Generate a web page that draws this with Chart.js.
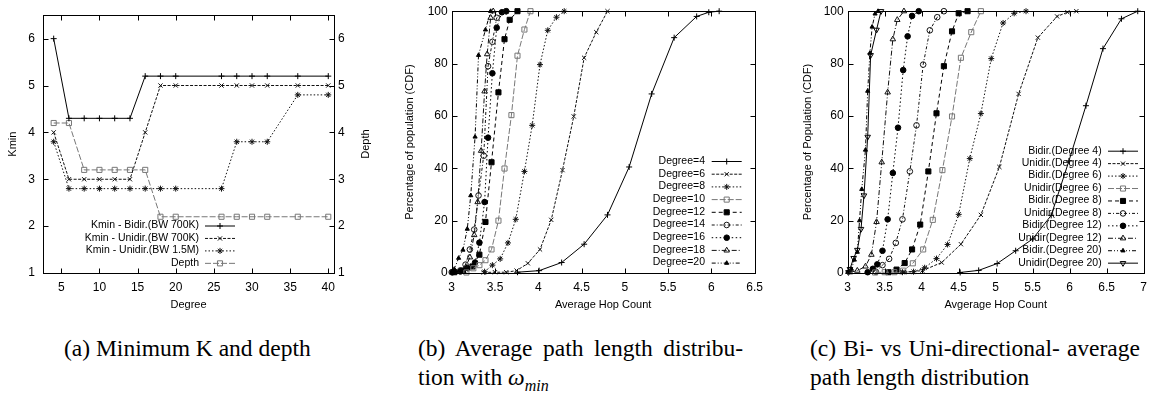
<!DOCTYPE html>
<html>
<head>
<meta charset="utf-8">
<script src="https://cdn.jsdelivr.net/npm/chart.js@4.4.1/dist/chart.umd.min.js"></script>
<style>
  body { margin: 0; background: #fff; width: 1154px; height: 394px; overflow: hidden; position: relative; }
  canvas { position: absolute; top: 0; }
  .cap { position: absolute; font-family: 'Liberation Serif', 'Times New Roman', serif; font-size: 23.5px; color: #000; white-space: nowrap; line-height: 29px; }
  .just { text-align: justify; text-align-last: justify; }
</style>
</head>
<body>
<canvas id="c1" width="385" height="315" style="left:0px"></canvas>
<canvas id="c2" width="378" height="315" style="left:392px"></canvas>
<canvas id="c3" width="369" height="315" style="left:785px"></canvas>

<div class="cap" style="left:64px;top:334px">(a) Minimum K and depth</div>
<div class="cap just" style="left:418px;top:334px;width:325px">(b) Average path length distribu-</div>
<div class="cap" style="left:418px;top:363px">tion with <i>ω</i><sub style="font-size:16px"><i>min</i></sub></div>
<div class="cap just" style="left:810px;top:334px;width:330px">(c) Bi- vs Uni-directional- average</div>
<div class="cap" style="left:810px;top:363px">path length distribution</div>

<script>
// (a) Kmin / depth against node degree
const DEGREES = [4, 6, 8, 10, 12, 14, 16, 18, 20, 26, 28, 30, 32, 36, 40];
const KMIN_BIDIR_700K  = [6, 4.3, 4.3, 4.3, 4.3, 4.3, 5.2, 5.2, 5.2, 5.2, 5.2, 5.2, 5.2, 5.2, 5.2];
const KMIN_UNIDIR_700K = [4, 3, 3, 3, 3, 3, 4, 5, 5, 5, 5, 5, 5, 5, 5];
const KMIN_UNIDIR_15M  = [3.8, 2.8, 2.8, 2.8, 2.8, 2.8, 2.8, 2.8, 2.8, 2.8, 3.8, 3.8, 3.8, 4.8, 4.8];
const DEPTH            = [4.2, 4.2, 3.2, 3.2, 3.2, 3.2, 3.2, 2.2, 2.2, 2.2, 2.2, 2.2, 2.2, 2.2, 2.2];
const DEG_TICKS = [5, 10, 15, 20, 25, 30, 35, 40];
const K_TICKS = [1, 2, 3, 4, 5, 6];

// (b) CDF of average hop count, [hop, percent] (unidirectional)
const HOP_DEG4  = [[3.76,0.3],[4.01,0.9],[4.27,4],[4.53,11],[4.80,22.2],[5.05,40.5],[5.31,68.4],[5.57,89.9],[5.83,98],[5.97,99.6],[6.09,100]];
const HOP_DEG6  = [[3.37,0.2],[3.50,0.3],[3.63,0.3],[3.75,0.9],[3.88,3.7],[4.02,9],[4.15,20.3],[4.28,39.3],[4.41,59.8],[4.53,82.2],[4.67,92],[4.80,100]];
const HOP_DEG8  = [[3.38,0.5],[3.47,3],[3.56,5.4],[3.65,11.5],[3.74,20.5],[3.84,38.8],[3.93,56.4],[4.02,79.6],[4.11,92.7],[4.21,97.7],[4.30,100]];
const HOP_DEG10 = [[3.17,0.2],[3.25,1.8],[3.32,3],[3.39,4.9],[3.46,9],[3.54,20],[3.61,39.9],[3.69,60.3],[3.76,83],[3.84,93],[3.91,100]];
const HOP_DEG12 = [[3.03,0.3],[3.13,0.9],[3.24,2.5],[3.32,7],[3.39,19.5],[3.46,42.3],[3.54,69],[3.61,89.3],[3.67,96.7],[3.76,100]];
const HOP_DEG14 = [[3.0,0.3],[3.10,1],[3.16,3.2],[3.21,9],[3.26,16.6],[3.31,29.6],[3.37,44.8],[3.42,79],[3.47,88.3],[3.52,97.5],[3.63,100]];
const HOP_DEG16 = [[3.01,0.3],[3.10,0.6],[3.18,1.9],[3.27,4],[3.32,11.6],[3.38,27.1],[3.42,51.7],[3.47,76.3],[3.52,93.7],[3.58,99.6],[3.63,100]];
const HOP_DEG18 = [[3.01,0.3],[3.09,0.6],[3.16,2.1],[3.21,6],[3.26,14.5],[3.30,27.1],[3.34,46.7],[3.38,69.4],[3.41,83.6],[3.45,97.5],[3.48,100]];
const HOP_DEG20 = [[3.01,0.3],[3.03,1.5],[3.08,5.7],[3.13,8.8],[3.18,16.8],[3.22,29.6],[3.27,52],[3.31,83.2],[3.39,92.9],[3.45,100]];

// (c) bidirectional runs (unidirectional ones are the same as in (b))
const BI_DEG4  = [[4.52,0.2],[4.77,1],[5.02,3.6],[5.27,8.5],[5.50,13],[5.75,22],[5.99,42.8],[6.22,63.9],[6.45,85.7],[6.70,97.1],[6.92,100]];
const BI_DEG6  = [[3.74,0.3],[3.89,0.5],[4.04,2],[4.20,5.5],[4.35,10.9],[4.50,22.4],[4.65,43.7],[4.80,60.9],[4.94,81.9],[5.10,95.5],[5.25,99.2],[5.41,100]];
const BI_DEG8  = [[3.55,0.3],[3.66,1.3],[3.77,3.8],[3.87,9],[3.98,18.5],[4.09,38.8],[4.20,61],[4.30,79],[4.41,92.3],[4.50,99.2],[4.62,100]];
const BI_DEG12 = [[3.27,0.3],[3.34,1.6],[3.40,3.3],[3.47,8.5],[3.54,20.5],[3.61,38.2],[3.68,55.5],[3.75,77.5],[3.81,90.4],[3.87,98.2],[3.96,100]];
const BI_DEG20 = [[3.0,0.3],[3.05,1.5],[3.09,5],[3.13,8],[3.16,20],[3.19,32],[3.24,47],[3.27,69.5],[3.30,84],[3.33,94],[3.37,99],[3.41,100]];

const HOP_TICKS_B = [3, 3.5, 4, 4.5, 5, 5.5, 6, 6.5];
const HOP_TICKS_C = [3, 3.5, 4, 4.5, 5, 5.5, 6, 6.5, 7];
const PCT_TICKS = [0, 20, 40, 60, 80, 100];

Chart.defaults.color = '#000';
Chart.defaults.font.family = "'Liberation Sans', Arial, sans-serif";

const TICK_FONT = { family: "'Liberation Sans', Arial, sans-serif", size: 12 };
const TITLE_FONT = { family: "'Liberation Sans', Arial, sans-serif", size: 11 };
const KEY_FONT = "10.5px 'Liberation Sans', Arial, sans-serif";

// gnuplot look: frame + inward ticks on all sides, and a key with text left of the sample
const gnuFrame = {
    id: 'gnuFrame',
    afterDatasetsDraw(chart, args, o) {
        const { ctx, chartArea: a, scales } = chart;
        ctx.save();
        ctx.strokeStyle = '#000';
        ctx.lineWidth = 1;
        ctx.setLineDash([]);
        const L = Math.round(a.left) + 0.5, R = Math.round(a.right) + 0.5;
        const T = Math.round(a.top) + 0.5, B = Math.round(a.bottom) + 0.5;
        ctx.strokeRect(L, T, R - L, B - T);
        const len = 5;
        ctx.beginPath();
        scales.x.ticks.forEach(t => {
            const p = Math.round(scales.x.getPixelForValue(t.value)) + 0.5;
            ctx.moveTo(p, B); ctx.lineTo(p, B - len);
            ctx.moveTo(p, T); ctx.lineTo(p, T + len);
        });
        scales.y.ticks.forEach(t => {
            const p = Math.round(scales.y.getPixelForValue(t.value)) + 0.5;
            ctx.moveTo(L, p); ctx.lineTo(L + len, p);
            ctx.moveTo(R, p); ctx.lineTo(R - len, p);
        });
        ctx.stroke();

        if (o.rightTitle) {
            ctx.font = "11px 'Liberation Sans', Arial, sans-serif";
            ctx.fillStyle = '#000';
            ctx.textAlign = 'center';
            ctx.textBaseline = 'middle';
            ctx.translate(o.rightTitle.x, (a.top + a.bottom) / 2);
            ctx.rotate(-Math.PI / 2);
            ctx.fillText(o.rightTitle.text, 0, 0);
        }
        ctx.restore();
    }
};

const gnuKey = {
    id: 'gnuKey',
    afterDatasetsDraw(chart, args, o) {
        if (!o || o.right === undefined) return;
        const ctx = chart.ctx;
        ctx.save();
        chart.data.datasets.forEach((ds, i) => {
            const y = o.top + i * o.step;
            ctx.font = KEY_FONT;
            ctx.fillStyle = '#000';
            ctx.textAlign = 'right';
            ctx.textBaseline = 'middle';
            ctx.fillText(ds.label, o.right, y);

            ctx.strokeStyle = ds.borderColor;
            ctx.lineWidth = ds.borderWidth;
            ctx.setLineDash(ds.borderDash || []);
            ctx.beginPath();
            ctx.moveTo(o.x1, y + 0.5);
            ctx.lineTo(o.x2, y + 0.5);
            ctx.stroke();
            ctx.setLineDash([]);

            ctx.fillStyle = ds.backgroundColor;
            ctx.strokeStyle = ds.borderColor;
            ctx.lineWidth = 1;
            Chart.helpers.drawPoint(ctx, {
                pointStyle: ds.pointStyle,
                radius: ds.pointRadius,
                rotation: ds.pointRotation || 0,
                borderWidth: 1
            }, (o.x1 + o.x2) / 2, y + 0.5);
        });
        ctx.restore();
    }
};

function series(label, pts, st) {
    return {
        label: label,
        data: pts.map(p => ({ x: p[0], y: p[1] })),
        showLine: true,
        borderColor: st.c || '#111',
        backgroundColor: st.fill ? (st.c || '#111') : 'rgba(0,0,0,0)',
        borderWidth: 1,
        borderDash: st.dash || [],
        pointStyle: st.pt,
        pointRadius: st.r || 3,
        pointHoverRadius: st.r || 3,
        pointRotation: st.rot || 0,
        pointBorderWidth: 1,
        tension: 0,
        clip: false
    };
}

function fixedTicks(list) {
    return s => { s.ticks = list.map(v => ({ value: v })); };
}

function linearAxis(pos, min, max, ticks, title, size, pad, titlePad) {
    return {
        type: 'linear',
        position: pos,
        min: min,
        max: max,
        grid: { display: false, drawTicks: false },
        border: { display: false },
        afterBuildTicks: fixedTicks(ticks),
        afterFit: s => { if (pos === 'bottom') s.height = size; else s.width = size; },
        ticks: { font: TICK_FONT, color: '#000', padding: pad, maxRotation: 0, autoSkip: false, callback: v => String(v) },
        title: title ? { display: true, text: title, font: TITLE_FONT, color: '#000', padding: titlePad } : { display: false }
    };
}

const BASE = {
    responsive: false,
    animation: false,
    devicePixelRatio: 1,
    events: [],
    elements: { line: { fill: false } }
};

// ---- (a)
const pairs = arr => DEGREES.map((d, i) => [d, arr[i]]);
new Chart(document.getElementById('c1'), {
    type: 'scatter',
    data: {
        datasets: [
            series('Kmin - Bidir.(BW 700K)', pairs(KMIN_BIDIR_700K), { pt: 'cross', c: '#000' }),
            series('Kmin - Unidir.(BW 700K)', pairs(KMIN_UNIDIR_700K), { pt: 'crossRot', dash: [3, 1.5] }),
            series('Kmin - Unidir.(BW 1.5M)', pairs(KMIN_UNIDIR_15M), { pt: 'star', dash: [1.5, 2] }),
            series('Depth', pairs(DEPTH), { pt: 'rect', r: 3.6, c: '#777', dash: [6, 2] })
        ]
    },
    options: Object.assign({}, BASE, {
        layout: { padding: { left: 0, right: 0, top: 9, bottom: 0 } },
        scales: {
            x: linearAxis('bottom', 2.6, 40.75, DEG_TICKS, 'Degree', 42, 7, { top: 4, bottom: 3 }),
            y: linearAxis('left', 1, 6.5, K_TICKS, 'Kmin', 43, 8, { top: 6, bottom: 4 }),
            y2: linearAxis('right', 1, 6.5, K_TICKS, null, 51, 4, 0)
        },
        plugins: {
            legend: { display: false },
            tooltip: { enabled: false },
            gnuFrame: { rightTitle: { text: 'Depth', x: 366 } },
            gnuKey: { right: 199, x1: 205, x2: 235, top: 225.5, step: 12.45 }
        }
    }),
    plugins: [gnuFrame, gnuKey]
});

// ---- (b)
new Chart(document.getElementById('c2'), {
    type: 'scatter',
    data: {
        datasets: [
            series('Degree=4', HOP_DEG4, { pt: 'cross', c: '#000' }),
            series('Degree=6', HOP_DEG6, { pt: 'crossRot', dash: [3, 1.5] }),
            series('Degree=8', HOP_DEG8, { pt: 'star', dash: [1.5, 2] }),
            series('Degree=10', HOP_DEG10, { pt: 'rect', r: 3.6, c: '#777', dash: [6, 2] }),
            series('Degree=12', HOP_DEG12, { pt: 'rect', r: 3.6, fill: true, c: '#000', dash: [4, 3] }),
            series('Degree=14', HOP_DEG14, { pt: 'circle', r: 2.8, dash: [3, 2, 1, 2] }),
            series('Degree=16', HOP_DEG16, { pt: 'circle', r: 2.8, fill: true, c: '#000', dash: [1.5, 2.5] }),
            series('Degree=18', HOP_DEG18, { pt: 'triangle', r: 3.2, dash: [5, 2, 1, 2] }),
            series('Degree=20', HOP_DEG20, { pt: 'triangle', r: 2.4, fill: true, c: '#000', dash: [4, 2, 1, 2, 1, 2] })
        ]
    },
    options: Object.assign({}, BASE, {
        layout: { padding: { left: 0, right: 14.3, top: 9, bottom: 0 } },
        scales: {
            x: linearAxis('bottom', 3, 6.5, HOP_TICKS_B, 'Average Hop Count', 42, 7, { top: 4, bottom: 3 }),
            y: linearAxis('left', 0, 100, PCT_TICKS, 'Percentage of population (CDF)', 59.7, 4, { top: 11.4, bottom: 4 })
        },
        plugins: {
            legend: { display: false },
            tooltip: { enabled: false },
            gnuFrame: {},
            gnuKey: { right: 313, x1: 319.7, x2: 349.7, top: 161, step: 12.7 }
        }
    }),
    plugins: [gnuFrame, gnuKey]
});

// ---- (c)
new Chart(document.getElementById('c3'), {
    type: 'scatter',
    data: {
        datasets: [
            series('Bidir.(Degree 4)', BI_DEG4, { pt: 'cross', c: '#000' }),
            series('Unidir.(Degree 4)', HOP_DEG4, { pt: 'crossRot', dash: [3, 1.5] }),
            series('Bidir.(Degree 6)', BI_DEG6, { pt: 'star', dash: [1.5, 2] }),
            series('Unidir(Degree 6)', HOP_DEG6, { pt: 'rect', r: 3.6, c: '#777', dash: [6, 2] }),
            series('Bidir.(Degree 8)', BI_DEG8, { pt: 'rect', r: 3.6, fill: true, c: '#000', dash: [4, 3] }),
            series('Unidir(Degree 8)', HOP_DEG8, { pt: 'circle', r: 2.8, dash: [3, 2, 1, 2] }),
            series('Bidir.(Degree 12)', BI_DEG12, { pt: 'circle', r: 2.8, fill: true, c: '#000', dash: [1.5, 2.5] }),
            series('Unidir(Degree 12)', HOP_DEG12, { pt: 'triangle', r: 3.2, dash: [5, 2, 1, 2] }),
            series('Bidir.(Degree 20)', BI_DEG20, { pt: 'triangle', r: 2.4, fill: true, c: '#000', dash: [4, 2, 1, 2, 1, 2] }),
            series('Unidir(Degree 20)', HOP_DEG20, { pt: 'triangle', r: 3.2, rot: 180, c: '#000' })
        ]
    },
    options: Object.assign({}, BASE, {
        layout: { padding: { left: 0, right: 3.3, top: 9, bottom: 0 } },
        scales: {
            x: linearAxis('bottom', 3, 7, HOP_TICKS_C, 'Avgerage Hop Count', 42, 7, { top: 4, bottom: 3 }),
            y: linearAxis('left', 0, 100, PCT_TICKS, 'Percentage of Population (CDF)', 62.7, 4, { top: 16, bottom: 4 })
        },
        plugins: {
            legend: { display: false },
            tooltip: { enabled: false },
            gnuFrame: {},
            gnuKey: { right: 316.7, x1: 323, x2: 353, top: 150.7, step: 12.44 }
        }
    }),
    plugins: [gnuFrame, gnuKey]
});
</script>
</body>
</html>
